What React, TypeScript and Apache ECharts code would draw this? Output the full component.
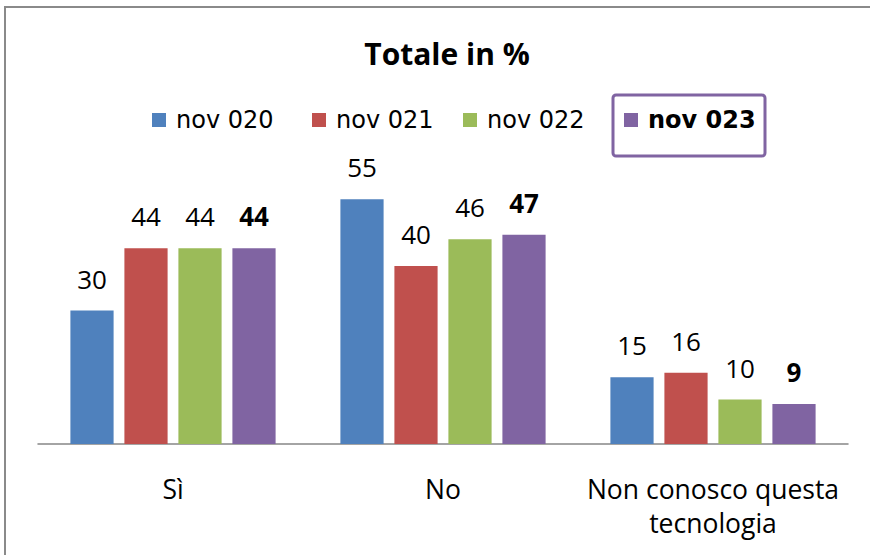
import React, { useEffect, useRef } from "react";
import * as echarts from "echarts";

const categories = ["Sì", "No", "Non conosco questa\ntecnologia"];
const seriesNames = ["nov 020", "nov 021", "nov 022", "nov 023"];
const nov020 = [30, 55, 15];
const nov021 = [44, 40, 16];
const nov022 = [44, 46, 10];
const nov023 = [44, 47, 9];
const colors = ["#4F81BD", "#C0504D", "#9BBB59", "#8064A2"];

const FONT = "Open Sans";
const LEGEND_FONT = "DejaVu Sans";
const legendLefts = [152, 312, 463, 624];

export default function App() {
  const ref = useRef<HTMLDivElement>(null);
  useEffect(() => {
    if (!ref.current) return;
    const chart = echarts.init(ref.current, null, { renderer: "svg" });
    const values = [nov020, nov021, nov022, nov023];
    chart.setOption({
      animation: false,
      backgroundColor: "#ffffff",
      title: {
        text: "Totale in %",
        left: 442,
        textAlign: "center",
        top: 33,
        textStyle: { fontFamily: FONT, fontSize: 30, fontWeight: "bold", color: "#000" },
      },
      legend: seriesNames.map((n, i) => ({
        top: 108,
        left: legendLefts[i],
        itemWidth: 14,
        itemHeight: 14,
        icon: "rect",
        padding: 0,
        data: [n],
        textStyle: {
          fontFamily: LEGEND_FONT,
          fontSize: 24,
          color: "#000",
          fontWeight: i === 3 ? "bold" : "normal",
          padding: [0, 0, 0, 5],
        },
      })),
      grid: { left: 38, right: 22, top: 177, bottom: 111, containLabel: false },
      xAxis: {
        type: "category",
        data: categories,
        axisLine: { lineStyle: { color: "#868686", width: 1.5 } },
        axisTick: { show: false },
        axisLabel: {
          margin: 28,
          fontFamily: FONT,
          fontSize: 26.5,
          color: "#000",
          lineHeight: 34,
          interval: 0,
        },
      },
      yAxis: { type: "value", min: 0, max: 60, show: false, splitLine: { show: false } },
      series: seriesNames.map((n, i) => ({
        name: n,
        type: "bar",
        data: values[i],
        barGap: "25%",
        barCategoryGap: "24%",
        itemStyle: { color: colors[i] },
        label: {
          show: true,
          position: "top",
          distance: 19,
          fontFamily: FONT,
          fontSize: 26,
          color: "#000",
          fontWeight: i === 3 ? "bold" : "normal",
        },
      })),
      graphic: [
        {
          type: "rect",
          shape: { x: 5, y: 7, width: 900, height: 600 },
          style: { fill: "none", stroke: "#8a8a8a", lineWidth: 2 },
          silent: true,
        },
        {
          type: "rect",
          shape: { x: 613, y: 95, width: 152, height: 61, r: 3 },
          style: { fill: "none", stroke: "#8064A2", lineWidth: 3 },
          silent: true,
        },
      ],
    });
    return () => chart.dispose();
  }, []);
  return (
    <div
      ref={ref}
      style={{ position: "fixed", left: 0, top: 0, width: 870, height: 555 }}
    />
  );
}
